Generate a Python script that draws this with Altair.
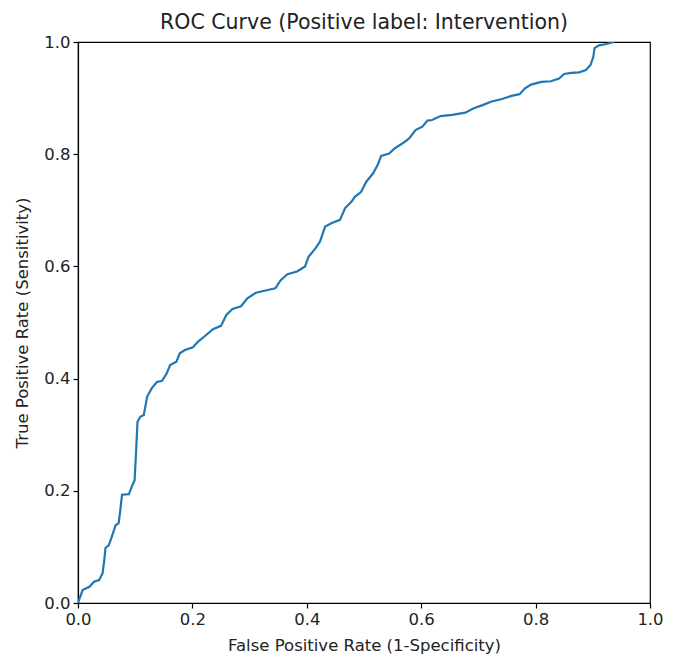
import altair as alt
import pandas as pd

fpr = [0.0, 0.008, 0.020, 0.028, 0.037, 0.043, 0.046, 0.048, 0.054, 0.060, 0.066, 0.071,
       0.074, 0.077, 0.089, 0.095, 0.099, 0.102, 0.104, 0.109, 0.115, 0.121, 0.129, 0.138,
       0.147, 0.155, 0.161, 0.172, 0.178, 0.187, 0.201, 0.210, 0.221, 0.236, 0.250, 0.259,
       0.270, 0.285, 0.296, 0.311, 0.328, 0.345, 0.354, 0.366, 0.383, 0.397, 0.403, 0.415,
       0.423, 0.432, 0.443, 0.458, 0.467, 0.478, 0.484, 0.495, 0.504, 0.516, 0.524, 0.530,
       0.544, 0.553, 0.567, 0.579, 0.590, 0.602, 0.611, 0.619, 0.634, 0.654, 0.677, 0.692,
       0.706, 0.723, 0.740, 0.758, 0.772, 0.781, 0.792, 0.810, 0.827, 0.841, 0.850, 0.862,
       0.876, 0.888, 0.896, 0.901, 0.903, 0.911, 0.922, 0.937]
tpr = [0.0, 0.023, 0.029, 0.038, 0.041, 0.053, 0.077, 0.098, 0.103, 0.121, 0.139, 0.142,
       0.166, 0.193, 0.194, 0.210, 0.219, 0.279, 0.323, 0.332, 0.335, 0.368, 0.383, 0.394,
       0.396, 0.409, 0.424, 0.430, 0.445, 0.451, 0.456, 0.466, 0.475, 0.488, 0.494, 0.513,
       0.524, 0.529, 0.543, 0.553, 0.557, 0.561, 0.575, 0.586, 0.591, 0.600, 0.617, 0.632,
       0.644, 0.671, 0.677, 0.683, 0.704, 0.715, 0.724, 0.733, 0.751, 0.766, 0.781, 0.797,
       0.801, 0.810, 0.819, 0.828, 0.843, 0.849, 0.860, 0.861, 0.868, 0.870, 0.874, 0.882,
       0.887, 0.894, 0.898, 0.904, 0.907, 0.917, 0.924, 0.929, 0.930, 0.935, 0.943, 0.945,
       0.946, 0.950, 0.959, 0.974, 0.989, 0.994, 0.996, 1.0]

df = pd.DataFrame({"fpr": fpr, "tpr": tpr, "idx": list(range(len(fpr)))})

ticks = [0.0, 0.2, 0.4, 0.6, 0.8, 1.0]

chart = alt.Chart(df).mark_line(color="#1f77b4", strokeWidth=2.2, clip=True).encode(
    x=alt.X("fpr:Q", scale=alt.Scale(domain=[0, 1], nice=False),
            axis=alt.Axis(values=ticks, format=".1f", title="False Positive Rate (1-Specificity)",
                          titlePadding=10, labelFlush=False)),
    y=alt.Y("tpr:Q", scale=alt.Scale(domain=[0, 1], nice=False),
            axis=alt.Axis(values=ticks, format=".1f", title="True Positive Rate (Sensitivity)",
                          titlePadding=13, labelFlush=False)),
    order="idx:Q",
).properties(
    width=572, height=561,
    title=alt.TitleParams("ROC Curve (Positive label: Intervention)", fontSize=20.5,
                          fontWeight="normal", font="DejaVu Sans", color="#222222", offset=1),
    autosize=alt.AutoSizeParams(type="none"),
    padding={"left": 70, "top": 34, "right": 15, "bottom": 58},
).configure_axis(
    grid=False, domainColor="black", domainWidth=1.2, tickColor="black", tickSize=5,
    tickWidth=1.2, labelFont="DejaVu Sans", labelFontSize=16.5, labelColor="#222222",
    titleFont="DejaVu Sans", titleFontSize=16.5, titleFontWeight="normal", titleColor="#222222",
    labelPadding=3,
).configure_view(stroke="black", strokeWidth=1.2)

chart.save("out.html", embed_options={"renderer": "svg", "actions": False})
